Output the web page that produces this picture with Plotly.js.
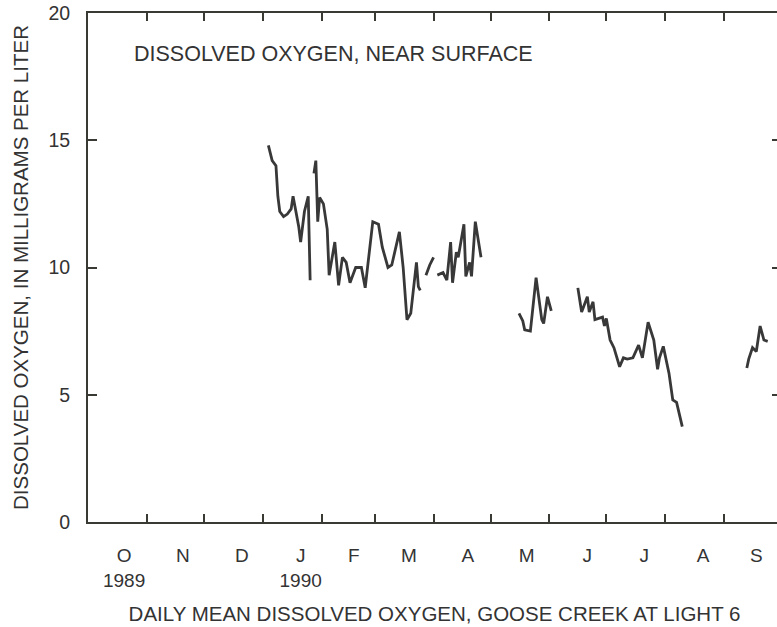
<!DOCTYPE html>
<html>
<head>
<meta charset="utf-8">
<script src="https://cdn.plot.ly/plotly-3.0.1.min.js"></script>
<style>
html,body{margin:0;padding:0;overflow:hidden;background:#fff;}
#chart{width:783px;height:627px;}
</style>
</head>
<body>
<div id="chart"></div>
<script>
// Daily mean dissolved oxygen (mg/L); null = gap in record
const dates = [
  '1990-01-04','1990-01-06','1990-01-08','1990-01-09','1990-01-10','1990-01-12','1990-01-14','1990-01-16',
  '1990-01-17','1990-01-18','1990-01-20','1990-01-21','1990-01-23','1990-01-25','1990-01-26','1990-01-27',
  '1990-01-28','1990-01-29','1990-01-30','1990-01-31','1990-02-02','1990-02-04','1990-02-05','1990-02-08',
  '1990-02-10','1990-02-12','1990-02-14','1990-02-16','1990-02-19','1990-02-22','1990-02-24','1990-02-26',
  '1990-02-28','1990-03-03','1990-03-05','1990-03-08','1990-03-10','1990-03-14','1990-03-16','1990-03-18',
  '1990-03-20','1990-03-23','1990-03-24','1990-03-25','1990-03-26',
  '1990-03-28','1990-03-30','1990-04-01','1990-04-02',
  '1990-04-03','1990-04-06','1990-04-08','1990-04-10','1990-04-11','1990-04-13','1990-04-14','1990-04-17',
  '1990-04-18','1990-04-20','1990-04-21','1990-04-23','1990-04-26','1990-05-01',
  '1990-05-16','1990-05-18','1990-05-19','1990-05-22','1990-05-23','1990-05-25','1990-05-28','1990-05-29',
  '1990-05-31','1990-06-02','1990-06-10',
  '1990-06-16','1990-06-18','1990-06-21','1990-06-22','1990-06-24','1990-06-25','1990-06-29','1990-06-30',
  '1990-07-01','1990-07-03','1990-07-05','1990-07-08','1990-07-10','1990-07-12','1990-07-15','1990-07-18',
  '1990-07-20','1990-07-23','1990-07-26','1990-07-28','1990-07-29','1990-07-31','1990-08-03','1990-08-05',
  '1990-08-07','1990-08-10','1990-08-20',
  '1990-09-13','1990-09-14','1990-09-16','1990-09-18','1990-09-20','1990-09-22','1990-09-24'
];
const oxygen = [
  14.8,14.2,14.0,12.8,12.2,12.0,12.1,12.3,
  12.8,12.4,11.6,11.0,12.2,12.8,9.5,null,
  13.7,14.2,11.8,12.75,12.5,11.5,9.7,11.0,
  9.3,10.4,10.2,9.4,10.0,10.0,9.2,10.6,
  11.8,11.7,10.8,10.0,10.1,11.4,10.0,7.95,
  8.2,10.2,9.25,9.1,null,
  9.7,10.1,10.4,null,
  9.7,9.8,9.5,11.0,9.4,10.6,10.4,11.7,
  9.65,10.2,9.65,11.8,10.4,null,
  8.2,7.9,7.55,7.5,8.2,9.6,7.95,7.8,
  8.85,8.3,null,
  9.2,8.25,8.85,8.25,8.65,7.95,8.05,7.7,
  8.0,7.15,6.85,6.1,6.45,6.4,6.45,6.95,
  6.45,7.85,7.15,6.0,6.45,6.9,5.85,4.8,
  4.7,3.75,null,
  6.05,6.4,6.85,6.7,7.7,7.15,7.1
];
const monthStarts = ['1989-11-01','1989-12-01','1990-01-01','1990-02-01','1990-03-01','1990-04-01',
  '1990-05-01','1990-06-01','1990-07-01','1990-08-01','1990-09-01'];
const labelDates = ['1989-10-20','1989-11-20','1989-12-21','1990-01-21','1990-02-18','1990-03-19',
  '1990-04-19','1990-05-20','1990-06-21','1990-07-21','1990-08-21','1990-09-18'];
const monthLabels = ['O<br>1989','N','D','J<br>1990','F','M','A','M','J','J','A','S'];
const yTicks = [0,5,10,15,20];

const ink = '#333333';
const axisColor = '#3a3a34';
const fontFam = '"Liberation Sans", Arial, Helvetica, sans-serif';
const xRange = ['1989-10-01','1990-10-01'];

const trace = {
  x: dates, y: oxygen, type: 'scatter', mode: 'lines',
  line: {color: '#383838', width: 2.8},
  connectgaps: false, hoverinfo: 'x+y', showlegend: false
};
const labelTrace = {
  x: [xRange[0]], y: [null], xaxis: 'x2', yaxis: 'y',
  type: 'scatter', mode: 'lines', showlegend: false, hoverinfo: 'skip'
};

const layout = {
  width: 783, height: 627,
  margin: {l: 88, r: 2, t: 13, b: 105},
  paper_bgcolor: '#ffffff', plot_bgcolor: '#ffffff',
  font: {family: fontFam, color: ink, size: 19},
  showlegend: false,
  xaxis: {
    type: 'date', range: xRange, tickmode: 'array', tickvals: monthStarts,
    showticklabels: false, ticks: 'inside', ticklen: 8, tickwidth: 2, tickcolor: axisColor,
    showline: true, linewidth: 2, linecolor: axisColor, mirror: 'ticks',
    showgrid: false, zeroline: false, fixedrange: true
  },
  xaxis2: {
    type: 'date', range: xRange, overlaying: 'x', anchor: 'y', side: 'bottom',
    tickmode: 'array', tickvals: labelDates, ticktext: monthLabels,
    ticks: '', ticklabelstandoff: 20, showline: false, showgrid: false, zeroline: false,
    tickfont: {size: 19, color: ink},
    title: {text: 'DAILY MEAN DISSOLVED OXYGEN, GOOSE CREEK AT LIGHT 6', standoff: 16,
            font: {size: 20.5, color: ink}},
    fixedrange: true
  },
  yaxis: {
    range: [0, 20], tickmode: 'array', tickvals: yTicks, ticktext: yTicks.map(String),
    ticks: 'inside', ticklen: 9, tickwidth: 2, tickcolor: axisColor,
    showline: true, linewidth: 2, linecolor: axisColor, mirror: 'ticks',
    showgrid: false, zeroline: false, ticklabelstandoff: 12,
    tickfont: {size: 19.5, color: ink},
    title: {text: 'DISSOLVED OXYGEN, IN MILLIGRAMS PER LITER', standoff: 14,
            font: {size: 20.5, color: ink}},
    fixedrange: true
  },
  annotations: [{
    text: 'DISSOLVED OXYGEN, NEAR SURFACE', xref: 'paper', yref: 'paper',
    x: 0.064, y: 0.92, xanchor: 'left', yanchor: 'middle', showarrow: false,
    font: {size: 21.5, color: ink}
  }]
};

Plotly.newPlot('chart', [trace, labelTrace], layout, {displayModeBar: false, staticPlot: true});
</script>
</body>
</html>
